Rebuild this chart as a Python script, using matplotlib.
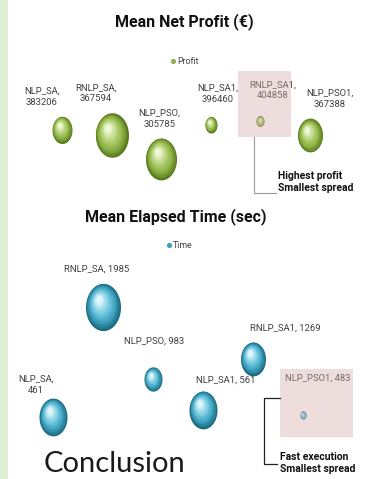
import numpy as np
import matplotlib
matplotlib.use("Agg")
import matplotlib.pyplot as plt
from matplotlib.path import Path
from matplotlib.transforms import offset_copy
from matplotlib.patches import Rectangle
from matplotlib.colors import LinearSegmentedColormap

# ---------------- data ----------------
categories = ["NLP_SA", "RNLP_SA", "NLP_PSO", "NLP_SA1", "RNLP_SA1", "NLP_PSO1"]
profit = [383206, 367594, 305785, 396460, 404858, 367388]
profit_spread = [400, 1089, 961, 144, 64, 625]      # relative bubble area
time_sec = [461, 1985, 983, 561, 1269, 483]
time_spread = [784, 1225, 324, 784, 625, 36]        # relative bubble area

# label offsets (pixels) relative to each bubble
profit_lbl_off = [(-20, 33), (-16, 42), (-2, 40), (7, 31), (12, 31), (20, 37)]
time_lbl_off = [(-17, 32), (-6, 38), (1, 38), (23, 30), (32, 30), (15, 37)]
time_lbl_text = ["NLP_SA,\n461", "RNLP_SA, 1985", "NLP_PSO, 983",
                 "NLP_SA1, 561", "RNLP_SA1, 1269", "NLP_PSO1, 483"]

W, H = 374, 479
fig = plt.figure(figsize=(W / 100, H / 100), dpi=100)

NARROW = ["Roboto", "DejaVu Sans"]
ASPECT = 1.35
SIZE_SCALE = (ASPECT * 0.72) ** 2

bg = fig.add_axes([0, 0, 1, 1])
bg.set_xlim(0, W); bg.set_ylim(H, 0); bg.axis("off")


def px_axes(x0, y0, x1, y1):
    a = fig.add_axes([x0 / W, 1 - y1 / H, (x1 - x0) / W, (y1 - y0) / H])
    a.patch.set_alpha(0)
    a.axis("off")
    return a


ax1 = px_axes(12, 50, 360, 200)
ax1.set_xlim(-1.008, 6.008); ax1.set_ylim(196082, 594382)
ax2 = px_axes(12, 235, 360, 440)
ax2.set_xlim(-0.82, 6.14); ax2.set_ylim(142, 2982)

ov = fig.add_axes([0, 0, 1, 1])
ov.set_xlim(0, W); ov.set_ylim(H, 0); ov.axis("off"); ov.patch.set_alpha(0)

# ellipse marker (taller than wide)
t = np.linspace(0, 2 * np.pi, 72)
ell = Path(np.column_stack([np.cos(t) / ASPECT, np.sin(t)]))

green = LinearSegmentedColormap.from_list(
    "g", ["#5a7a20", "#88ad40", "#a6c864", "#cae09a", "#f0f8dc"])
blue = LinearSegmentedColormap.from_list(
    "b", ["#1c6a80", "#3a9cba", "#62bfd8", "#9fdcec", "#e2f7fc"])


def bubble(ax, x, y, s, cmap):
    n = 16
    r_px = np.sqrt(s) / 0.72 / 2
    for k in range(n):
        f = 1 - 0.9 * k / n
        col = cmap(k / (n - 1))
        dx = -(1 - f) * r_px * 0.30 / ASPECT
        dy = (1 - f) * r_px * 0.40
        tr = offset_copy(ax.transData, fig=fig, x=dx, y=dy, units="dots")
        ax.scatter([x], [y], s=s * f * f, marker=ell, c=[col],
                   transform=tr, linewidths=0, zorder=2 + k * 0.01)


for i, (c, v, sp) in enumerate(zip(categories, profit, profit_spread)):
    bubble(ax1, i, v, sp * SIZE_SCALE, green)
    ax1.annotate(f"{c},\n{v}", (i, v), xytext=profit_lbl_off[i],
                 textcoords="offset pixels", ha="center", va="center",
                 fontsize=6.8, family=NARROW, color="#404040",
                 linespacing=1.3, zorder=5, annotation_clip=False)

for i, (v, sp) in enumerate(zip(time_sec, time_spread)):
    bubble(ax2, i, v, sp * SIZE_SCALE, blue)
    ax2.annotate(time_lbl_text[i], (i, v), xytext=time_lbl_off[i],
                 textcoords="offset pixels", ha="center", va="center",
                 fontsize=6.8, family=NARROW, color="#404040",
                 linespacing=1.3, zorder=5, annotation_clip=False)

# left green strip
bg.add_patch(Rectangle((0, 0), 8, H, fc="#e0f0d6", ec="none"))

# titles
ov.text(184, 22, "Mean Net Profit (€)", ha="center", va="center",
        fontsize=11.5, weight="bold", family=NARROW, color="#111111")
ov.text(176, 217, "Mean Elapsed Time (sec)", ha="center", va="center",
        fontsize=11.5, weight="bold", family=NARROW, color="#111111")

# legends
ov.scatter([173], [61], s=14, color="#8fb24c", linewidths=0)
ov.text(177, 61, "Profit", ha="left", va="center", fontsize=6.3,
        family=NARROW, color="#404040")
ov.scatter([169], [245], s=14, color="#3f9fbd", linewidths=0)
ov.text(173, 245, "Time", ha="left", va="center", fontsize=6.3,
        family=NARROW, color="#404040")

# highlight boxes
ov.add_patch(Rectangle((238, 71), 53, 66, fc=(212 / 255, 172 / 255, 172 / 255),
                       alpha=0.4, ec="none", zorder=10))
ov.add_patch(Rectangle((280, 369), 73, 68, fc=(212 / 255, 172 / 255, 172 / 255),
                       alpha=0.4, ec="none", zorder=10))

# callouts
ov.plot([254, 254, 276], [137, 193, 193], color="#9a9a9a", lw=0.8, zorder=11)
ov.text(278, 182, "Highest profit\nSmallest spread", ha="left", va="center",
        fontsize=7.5, weight="bold", family=NARROW, color="#111111",
        linespacing=1.35, zorder=11)
ov.plot([280, 264, 264, 277], [398, 398, 464, 464], color="#222222", lw=0.9,
        zorder=11)
ov.text(280, 463, "Fast execution\nSmallest spread", ha="left", va="center",
        fontsize=7.5, weight="bold", family=NARROW, color="#111111",
        linespacing=1.35, zorder=11)

# bottom slide text
ov.text(44, 472, "Conclusion", ha="left", va="baseline", fontsize=21,
        family=["Lato", "DejaVu Sans"], color="#1a1a1a")

fig.savefig("out.png", dpi=100)
